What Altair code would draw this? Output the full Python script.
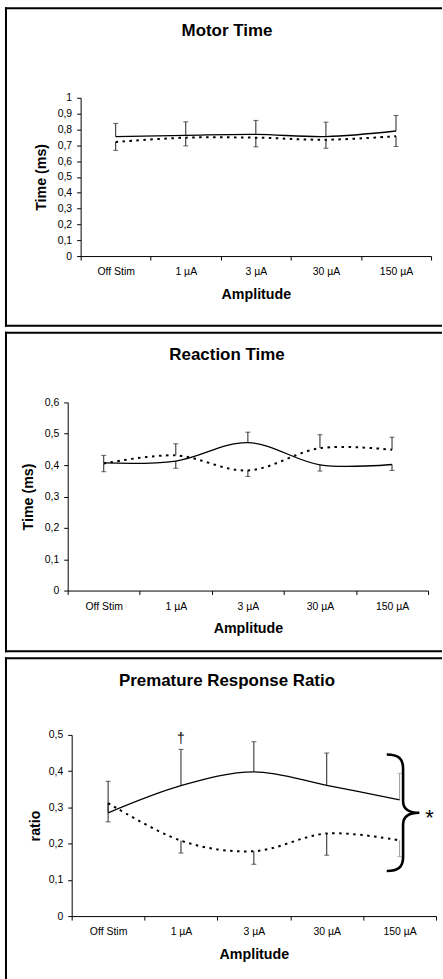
import altair as alt
import pandas as pd

categories = ["Off Stim", "1 µA", "3 µA", "30 µA", "150 µA"]

# Motor Time
motor_solid = [0.755, 0.763, 0.769, 0.755, 0.790]
motor_solid_err = [0.838, 0.848, 0.857, 0.846, 0.888]
motor_dotted = [0.721, 0.748, 0.748, 0.735, 0.757]
motor_dotted_err = [0.668, 0.696, 0.690, 0.681, 0.692]
motor_ticks = [0, 0.1, 0.2, 0.3, 0.4, 0.5, 0.6, 0.7, 0.8, 0.9, 1.0]

# Reaction Time
reaction_solid = [0.407, 0.413, 0.472, 0.401, 0.402]
reaction_solid_err = [0.431, 0.390, 0.505, 0.381, 0.383]
reaction_dotted = [0.405, 0.431, 0.383, 0.454, 0.449]
reaction_dotted_err = [0.379, 0.468, 0.364, 0.497, 0.489]
reaction_ticks = [0, 0.1, 0.2, 0.3, 0.4, 0.5, 0.6]

# Premature Response Ratio
ratio_solid = [0.285, 0.360, 0.398, 0.361, 0.321]
ratio_solid_err = [0.372, 0.460, 0.481, 0.450, 0.394]
ratio_dotted = [0.312, 0.208, 0.179, 0.228, 0.209]
ratio_dotted_err = [0.260, 0.174, 0.143, 0.168, 0.164]
ratio_ticks = [0, 0.1, 0.2, 0.3, 0.4, 0.5]

# annotations in the ratio panel
dagger_label = ["†"]
dagger_cat = ["1 µA"]
dagger_val = [0.489]
star_label = ["*"]
star_cat = ["150 µA"]
star_val = [0.283]
brace_cat = ["150 µA"]
brace_val = [0.285]

FONT = "Liberation Sans"
LABEL_EXPR = "replace(format(datum.value, '~g'), '.', ',')"
BRACE = ("M -0.28 -1 C -0.08 -1 0 -0.93 0 -0.76 L 0 -0.2 C 0 -0.06 0.1 0 0.28 0 "
         "C 0.1 0 0 0.06 0 0.2 L 0 0.76 C 0 0.93 -0.08 1 -0.28 1")

# all panels share the same group origin; each plot is shifted inside it
FRAME_LEFT = -62
FRAME_RIGHT = 375


def frame_rules(top, bottom, draw_bottom=True):
    one = alt.Data(values=[{"k": 1}])
    st = dict(color="black", strokeWidth=2, strokeCap="square")
    out = [
        alt.Chart(one).mark_rule(**st).encode(
            x=alt.value(FRAME_LEFT), x2=alt.value(FRAME_RIGHT),
            y=alt.value(top), y2=alt.value(top)),
        alt.Chart(one).mark_rule(**st).encode(
            x=alt.value(FRAME_LEFT), x2=alt.value(FRAME_LEFT),
            y=alt.value(top), y2=alt.value(bottom)),
    ]
    if draw_bottom:
        out.append(alt.Chart(one).mark_rule(**st).encode(
            x=alt.value(FRAME_LEFT), x2=alt.value(FRAME_RIGHT),
            y=alt.value(bottom), y2=alt.value(bottom)))
    return out


def make_panel(title, solid, solid_err, dotted, dotted_err, ticks, ytitle,
               shift, w, h, top, bottom, title_y, ytitle_pad,
               gray_cat=None, extra=None, draw_bottom=True):
    rows = []
    for c, v, e in zip(categories, solid, solid_err):
        rows.append({"cat": c, "series": "solid", "val": v, "err": e})
    for c, v, e in zip(categories, dotted, dotted_err):
        rows.append({"cat": c, "series": "dotted", "val": v, "err": e})
    df = pd.DataFrame(rows)

    x = alt.X(
        "cat:N", sort=categories, bandPosition=0.5,
        scale=alt.Scale(type="band", paddingInner=0, paddingOuter=0,
                        range=[shift, shift + w]),
        axis=alt.Axis(title="Amplitude", labelAngle=0, tickBand="extent",
                      tickSize=4, labelPadding=7, titlePadding=10,
                      labelFont=FONT, labelFontSize=10.5, titleFont=FONT,
                      titleFontSize=14.3, titleFontWeight="bold",
                      domainColor="black", tickColor="black",
                      labelColor="black", titleColor="black", grid=False))
    ymax = ticks[-1]
    yscale = alt.Scale(domain=[0, ymax], nice=False, zero=True)
    yaxis = alt.Axis(title=ytitle, values=ticks, labelExpr=LABEL_EXPR,
                     offset=-shift, tickSize=4, labelPadding=5,
                     titlePadding=ytitle_pad,
                     labelFont=FONT, labelFontSize=10.5, titleFont=FONT,
                     titleFontSize=14.3, titleFontWeight="bold",
                     domainColor="black", tickColor="black",
                     labelColor="black", titleColor="black", grid=False)
    y = alt.Y("val:Q", scale=yscale, axis=yaxis)

    base = alt.Chart(df)
    if gray_cat is not None:
        bar_color = alt.condition(f"datum.cat == '{gray_cat}'",
                                  alt.value("#9a9a9a"), alt.value("#222222"))
    else:
        bar_color = alt.value("#222222")

    rules = base.mark_rule(strokeWidth=1).encode(
        x=x, y=y, y2="err:Q", color=bar_color)
    caps = base.mark_tick(orient="horizontal", size=5, thickness=1).encode(
        x=x, y=alt.Y("err:Q", scale=yscale, axis=yaxis), color=bar_color)
    solid_line = base.transform_filter("datum.series == 'solid'").mark_line(
        color="black", strokeWidth=1.3, interpolate="cardinal").encode(x=x, y=y)
    dotted_line = base.transform_filter("datum.series == 'dotted'").mark_line(
        color="black", strokeWidth=2, strokeDash=[2.5, 4.5],
        interpolate="cardinal").encode(x=x, y=y)

    one = alt.Data(values=[{"k": 1}])
    title_text = alt.Chart(one).mark_text(
        text=title, font=FONT, fontSize=17, fontWeight="bold", color="black",
        align="center", baseline="alphabetic").encode(
        x=alt.value(160), y=alt.value(title_y))

    layers = frame_rules(top, bottom, draw_bottom=draw_bottom)
    layers += [title_text, rules, caps, solid_line, dotted_line]
    if extra is not None:
        layers += extra(x, yscale, yaxis)
    return alt.layer(*layers).properties(width=shift + w, height=h)


def ratio_extras(x, yscale, yaxis):
    dag = alt.Chart(pd.DataFrame({"cat": dagger_cat, "val": dagger_val,
                                  "lab": dagger_label})).mark_text(
        font=FONT, fontSize=14, color="black", baseline="middle").encode(
        x=x, y=alt.Y("val:Q", scale=yscale, axis=yaxis), text="lab:N")
    star = alt.Chart(pd.DataFrame({"cat": star_cat, "val": star_val,
                                   "lab": star_label})).mark_text(
        font=FONT, fontSize=22, color="black", baseline="middle",
        dx=30, dy=5).encode(
        x=x, y=alt.Y("val:Q", scale=yscale, axis=yaxis), text="lab:N")
    brace = alt.Chart(pd.DataFrame({"cat": brace_cat, "val": brace_val})).mark_point(
        shape=BRACE, size=13689, filled=False, stroke="black", strokeWidth=2.6,
        opacity=1, xOffset=3.5).encode(
        x=x, y=alt.Y("val:Q", scale=yscale, axis=yaxis))
    return [brace, dag, star]


p1 = make_panel("Motor Time", motor_solid, motor_solid_err, motor_dotted,
                motor_dotted_err, motor_ticks, "Time (ms)",
                13, 352, 159, -90, 229, -61.7, 9)
p2 = make_panel("Reaction Time", reaction_solid, reaction_solid_err,
                reaction_dotted, reaction_dotted_err, reaction_ticks,
                "Time (ms)", 0, 362, 189, -70, 250, -42.7, 9)
p3 = make_panel("Premature Response Ratio", ratio_solid, ratio_solid_err,
                ratio_dotted, ratio_dotted_err, ratio_ticks, "ratio",
                4, 366, 182, -77, 245, -49, 6,
                gray_cat="150 µA", extra=ratio_extras, draw_bottom=False)

chart = alt.concat(p1, p2, p3, columns=1, spacing=3).properties(
    padding={"left": 4, "top": 4, "right": 0, "bottom": 0},
    background="white",
).configure_view(stroke=None)

chart.save("out.html", embed_options={"renderer": "svg", "actions": False})
